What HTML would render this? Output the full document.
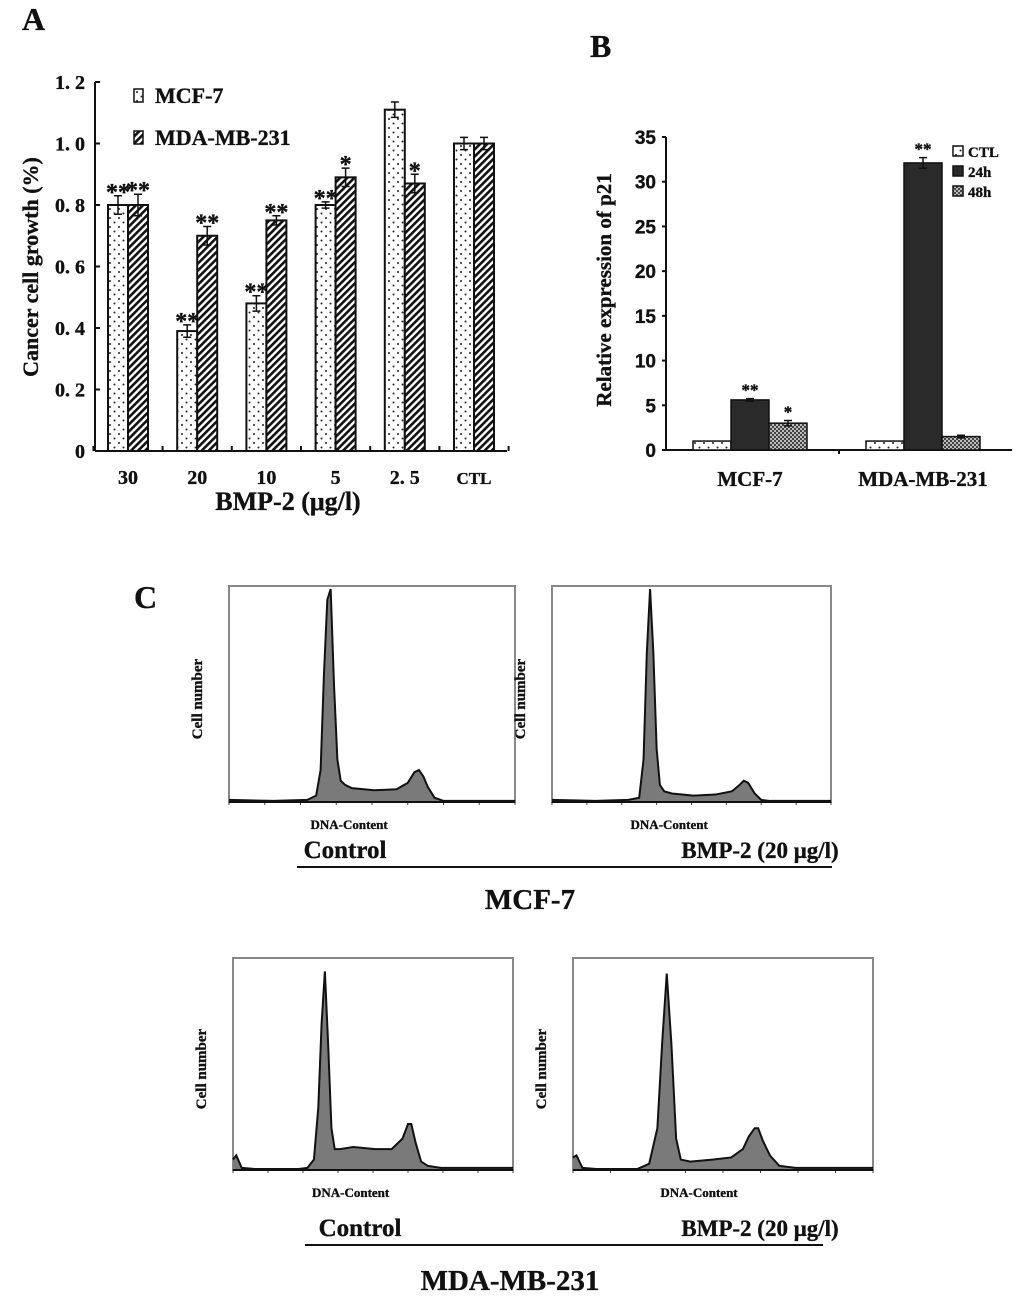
<!DOCTYPE html>
<html><head><meta charset="utf-8">
<style>
body{margin:0;background:#fff;}
svg{display:block;}
text{font-family:"Liberation Serif",serif;font-weight:bold;fill:#111;stroke:#111;stroke-width:0.35;}
.sans{font-family:"Liberation Sans",sans-serif;}
</style></head>
<body>
<svg id="fig" width="1033" height="1309" viewBox="0 0 1033 1309" xmlns="http://www.w3.org/2000/svg">
<defs>
<pattern id="dots" width="9" height="9" patternUnits="userSpaceOnUse"><rect width="9" height="9" fill="#fff"/><circle cx="2" cy="2" r="1" fill="#222"/><circle cx="6.5" cy="6.5" r="1" fill="#222"/></pattern>
<pattern id="hatch" width="5" height="5" patternUnits="userSpaceOnUse" patternTransform="rotate(45)"><rect width="5" height="5" fill="#fff"/><rect width="2.6" height="5" fill="#111"/></pattern>
<pattern id="checker" width="4" height="4" patternUnits="userSpaceOnUse"><rect width="4" height="4" fill="#444"/><rect width="2" height="2" fill="#bbb"/><rect x="2" y="2" width="2" height="2" fill="#bbb"/></pattern>
</defs>
<text x="22" y="30" font-size="32">A</text>
<text x="590" y="57" font-size="32">B</text>
<text x="134" y="608" font-size="32">C</text>
<g id="chartA"></g>
<g id="chartB"></g>
<g id="chartC"></g>
</svg>
<script>
// ---------- Panel A data ----------
const aCategories = ["30","20","10","5","2. 5","CTL"];
const aMCF = [0.80,0.39,0.48,0.80,1.11,1.00];
const aMCFerr = [0.03,0.02,0.025,0.01,0.025,0.02];
const aMDA = [0.80,0.70,0.75,0.89,0.87,1.00];
const aMDAerr = [0.035,0.03,0.015,0.03,0.03,0.02];
const aMCFsig = ["**","**","**","**","",""];
const aMDAsig = ["**","**","**","*","*",""];
const aTicks = [0,0.2,0.4,0.6,0.8,1.0,1.2];
const aTickLabels = ["0","0. 2","0. 4","0. 6","0. 8","1. 0","1. 2"];
// ---------- Panel B data ----------
const bCategories = ["MCF-7","MDA-MB-231"];
const bCTL = [1.0,1.0];
const b24 = [5.6,32.1];
const b48 = [3.0,1.5];
const bErr24 = [0.15,0.6];
const bErr48 = [0.3,0.15];
const bSig24 = ["**","**"];
const bSig48 = ["*",""];
const bTicks = [0,5,10,15,20,25,30,35];
// ---------- Panel C data (channel, relative count) ----------
const hMcfCtlCh = [0,40,70,78,82,85,88,91,94,97,100,104,110,130,150,160,166,170,174,178,184,192,256];
const hMcfCtlV  = [0.01,0.005,0.01,0.03,0.15,0.6,0.95,1.0,0.55,0.2,0.1,0.08,0.065,0.055,0.06,0.09,0.14,0.15,0.12,0.07,0.02,0.005,0.005];
const hMcfBmpCh = [0,40,70,80,84,87,90,93,96,99,103,110,130,150,165,172,176,180,186,192,200,256];
const hMcfBmpV  = [0.01,0.005,0.01,0.02,0.2,0.7,1.0,0.7,0.25,0.08,0.05,0.04,0.03,0.035,0.05,0.08,0.1,0.09,0.04,0.01,0.005,0.005];
const hMdaCtlCh = [0,3,8,20,60,68,74,78,81,84,87,90,93,98,110,130,145,155,160,163,167,172,178,190,256];
const hMdaCtlV  = [0.05,0.07,0.01,0.005,0.005,0.01,0.05,0.3,0.7,0.95,0.6,0.2,0.1,0.1,0.11,0.1,0.1,0.15,0.22,0.22,0.13,0.04,0.02,0.01,0.01];
const hMdaBmpCh = [0,3,8,20,55,65,72,76,80,84,88,92,100,120,135,145,150,155,158,162,168,176,190,256];
const hMdaBmpV  = [0.06,0.07,0.01,0.005,0.005,0.03,0.2,0.6,0.94,0.6,0.15,0.05,0.04,0.05,0.06,0.1,0.16,0.2,0.2,0.14,0.07,0.02,0.01,0.01];

const NS="http://www.w3.org/2000/svg";
function mk(parent,tag,attrs,txt){const e=document.createElementNS(NS,tag);for(const k in attrs)e.setAttribute(k,attrs[k]);if(txt!==undefined)e.textContent=txt;parent.appendChild(e);return e;}

// ---------- Panel A ----------
(function(){
  const g=document.getElementById('chartA');
  const x0=95,x1=507,yb=451,yt=82;
  const y=v=>yb-(v/1.2)*(yb-yt);
  const cx=i=>128+i*69.2;
  const bw=20;
  mk(g,'line',{x1:x0,y1:yt,x2:x0,y2:yb,stroke:'#111','stroke-width':2});
  mk(g,'line',{x1:x0,y1:yb,x2:x1,y2:yb,stroke:'#111','stroke-width':2});
  aTicks.forEach((t,i)=>{
    const tk=mk(g,'line',{x1:x0,y1:y(t),x2:x0+5,y2:y(t),stroke:'#111','stroke-width':2});
    
    
    const l=mk(g,'text',{x:x0-10,y:y(t)+7,'font-size':20,'text-anchor':'end'},aTickLabels[i]);
    
    
  });
  for(let i=0;i<=aCategories.length;i++){mk(g,'line',{x1:cx(i)-34.6,y1:yb,x2:cx(i)-34.6,y2:yb-5,stroke:'#111','stroke-width':2});}
  aCategories.forEach((c,i)=>{
    const l=mk(g,'text',{x:cx(i),y:484,'font-size':i==5?17:20,'text-anchor':'middle'},c);
    
    
    [[aMCF,aMCFerr,aMCFsig,'url(#dots)',cx(i)-bw],[aMDA,aMDAerr,aMDAsig,'url(#hatch)',cx(i)]].forEach((s,k)=>{
      const v=s[0][i],e=s[1][i],bx=s[4];
      const r=mk(g,'rect',{x:bx,y:y(v),width:bw,height:yb-y(v),fill:s[3],stroke:'#111','stroke-width':2});
      
      
      const m=bx+bw/2;
      mk(g,'path',{d:`M${m},${y(v+e)}V${y(v-e)}M${m-4},${y(v+e)}H${m+4}M${m-4},${y(v-e)}H${m+4}`,stroke:'#111','stroke-width':1.5,fill:'none'});
      if(s[2][i]){const st=mk(g,'text',{x:m,y:y(v+e)+4,'font-size':24,'text-anchor':'middle'},s[2][i]);
        
        }
    });
  });
  const t=mk(g,'text',{transform:'translate(38,267) rotate(-90)','font-size':22,'text-anchor':'middle'},'Cancer cell growth (%)');
  
  
  const xt=mk(g,'text',{x:288,y:510,'font-size':26,'text-anchor':'middle'},'BMP-2 (μg/l)');
  
  
  [['url(#dots)','MCF-7',103],['url(#hatch)','MDA-MB-231',145]].forEach(l=>{
    mk(g,'rect',{x:134,y:l[2]-14,width:9,height:13,fill:l[0],stroke:'#111','stroke-width':1.5});
    const tx=mk(g,'text',{x:155,y:l[2],'font-size':22},l[1]);
    
    
  });
})();

// ---------- Panel B ----------
(function(){
  const g=document.getElementById('chartB');
  const x0=666,x1=1012,yb=450,yt=137;
  const y=v=>yb-(v/35)*(yb-yt);
  const starts=[693,866];const bw=38;
  mk(g,'line',{x1:x0,y1:yt,x2:x0,y2:yb,stroke:'#111','stroke-width':2});
  mk(g,'line',{x1:x0,y1:yb,x2:x1,y2:yb,stroke:'#111','stroke-width':2});
  mk(g,'line',{x1:839,y1:yb,x2:839,y2:yb+4,stroke:'#111','stroke-width':2});
  bTicks.forEach(t=>{
    mk(g,'line',{x1:x0-4,y1:y(t),x2:x0,y2:y(t),stroke:'#111','stroke-width':2});
    const l=mk(g,'text',{x:x0-10,y:y(t)+7,'font-size':19,'text-anchor':'end','class':'sans'},String(t));
    
    
  });
  bCategories.forEach((c,i)=>{
    const sx=starts[i];
    [[bCTL,'url(#dots)',null,''],[b24,'#2a2a2a',bErr24,bSig24[i]],[b48,'url(#checker)',bErr48,bSig48[i]]].forEach((s,k)=>{
      const v=s[0][i],bx=sx+k*bw;
      const r=mk(g,'rect',{x:bx,y:y(v),width:bw,height:yb-y(v),fill:s[1],stroke:'#111','stroke-width':1.5});
      
      
      const m=bx+bw/2;
      if(s[2]){const e=s[2][i];mk(g,'path',{d:`M${m},${y(v+e)}V${y(v-e)}M${m-4},${y(v+e)}H${m+4}M${m-4},${y(v-e)}H${m+4}`,stroke:'#111','stroke-width':1.5,fill:'none'});
        if(s[3]){const st=mk(g,'text',{x:m,y:y(v+e)-3,'font-size':17,'text-anchor':'middle'},s[3]);
          
          }}
    });
    const l=mk(g,'text',{x:sx+57,y:486,'font-size':21,'text-anchor':'middle'},c);
    
    
  });
  const t=mk(g,'text',{transform:'translate(611,290) rotate(-90)','font-size':21,'text-anchor':'middle'},'Relative  expression of p21');
  
  
  [['url(#dots)','CTL',157],['#2a2a2a','24h',177],['url(#checker)','48h',197]].forEach(l=>{
    mk(g,'rect',{x:953,y:l[2]-11,width:10,height:10,fill:l[0],stroke:'#111','stroke-width':1.5});
    const tx=mk(g,'text',{x:968,y:l[2],'font-size':15},l[1]);
    
    
  });
})();

// ---------- Panel C ----------
(function(){
  const g=document.getElementById('chartC');
  function hist(name,fx,fy,fw,fh,ch,val){
    const hg=mk(g,'g',{});
    
    
    const X=c=>fx+c/256*fw, Y=v=>fy+fh-v*(fh-3);
    mk(hg,'rect',{x:fx,y:fy,width:fw,height:fh,fill:'#fff',stroke:'#888','stroke-width':2});
    for(let i=0;i<=8;i++){mk(hg,'line',{x1:X(i*32),y1:fy+fh,x2:X(i*32),y2:fy+fh+3,stroke:'#444','stroke-width':1});}
    let d=`M${X(ch[0])},${fy+fh}`;ch.forEach((c,i)=>d+=`L${X(c)},${Y(val[i])}`);d+=`L${X(256)},${fy+fh}Z`;
    mk(hg,'path',{d:d,fill:'#7a7a7a',stroke:'none'});
    let d2=`M${X(ch[0])},${Y(val[0])}`;ch.forEach((c,i)=>d2+=`L${X(c)},${Y(val[i])}`);
    mk(hg,'path',{d:d2,fill:'none',stroke:'#111','stroke-width':2});
    mk(hg,'line',{x1:fx,y1:fy+fh,x2:fx+fw,y2:fy+fh,stroke:'#111','stroke-width':2});
    const yl=mk(g,'text',{transform:`translate(${fx-27},${fy+fh/2+5}) rotate(-90)`,'font-size':15,'text-anchor':'middle'},'Cell number');
    
    
    const xl=mk(g,'text',{x:fx+fw*0.42,y:fy+fh+27,'font-size':13,'text-anchor':'middle'},'DNA-Content');
    
    
  }
  hist('histogram-mcf7-control',229,586,286,216,hMcfCtlCh,hMcfCtlV);
  hist('histogram-mcf7-bmp2',552,586,279,216,hMcfBmpCh,hMcfBmpV);
  hist('histogram-mda-control',233,958,280,212,hMdaCtlCh,hMdaCtlV);
  hist('histogram-mda-bmp2',573,958,300,212,hMdaBmpCh,hMdaBmpV);
  const labels=[['Control',345,858,25,'condition-label'],['BMP-2 (20 μg/l)',760,858,23,'condition-label'],['MCF-7',530,909,29,'cell-line-label'],
    ['Control',360,1236,25,'condition-label'],['BMP-2 (20 μg/l)',760,1236,23,'condition-label'],['MDA-MB-231',510,1290,29,'cell-line-label']];
  labels.forEach(l=>{const t=mk(g,'text',{x:l[1],y:l[2],'font-size':l[3],'text-anchor':'middle'},l[0]);
    
    });
  mk(g,'line',{x1:297,y1:867,x2:832,y2:867,stroke:'#111','stroke-width':2});
  mk(g,'line',{x1:305,y1:1245,x2:823,y2:1245,stroke:'#111','stroke-width':2});
})();
</script>
</body></html>
